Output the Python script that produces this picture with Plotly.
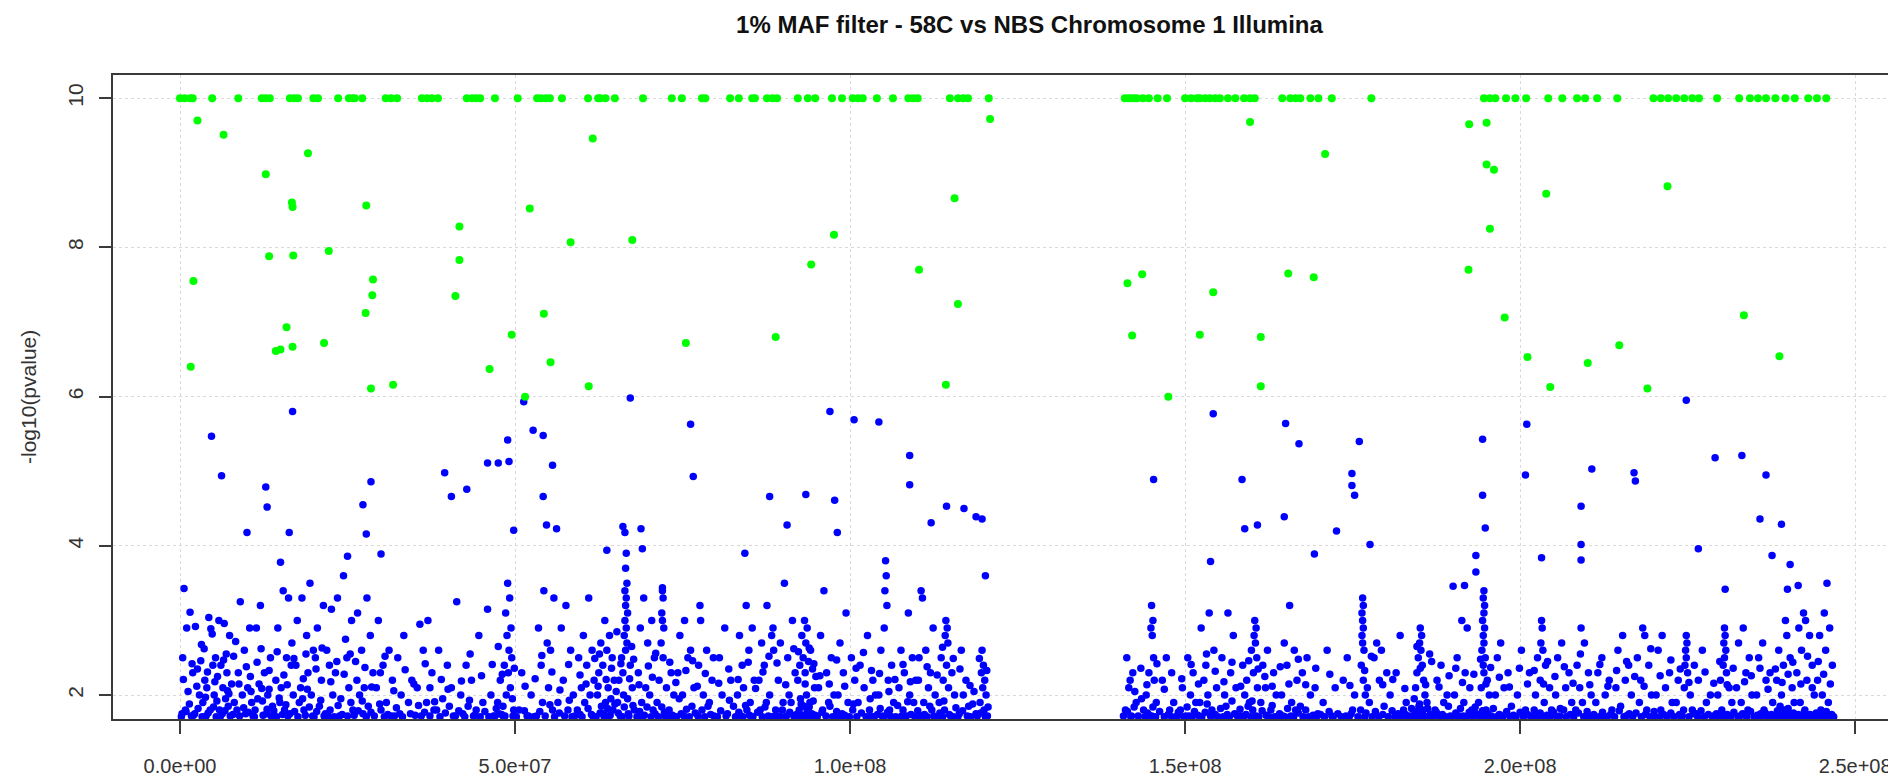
import plotly.graph_objects as go

TITLE = "1% MAF filter - 58C vs NBS Chromosome 1 Illumina"
Y_LABEL = "-log10(pvalue)"
X_TICKS = [0, 5e7, 1e8, 1.5e8, 2e8, 2.5e8]
X_TICK_TEXT = ["0.0e+00", "5.0e+07", "1.0e+08", "1.5e+08", "2.0e+08", "2.5e+08"]
Y_TICKS = [2, 4, 6, 8, 10]

# green points capped at -log10(p) = 10 (positions in Mb)
green_cap_mb = [0.0, 0.7, 1.5, 1.9, 4.8, 8.7, 12.2, 12.8, 13.4, 16.4, 17.0, 17.6, 19.9, 20.6,
                23.6, 25.2, 25.7, 26.1, 27.2, 30.7, 31.5, 32.4, 36.1, 36.9, 37.6, 38.5, 42.8,
                43.6, 44.2, 44.8, 47.0, 50.4, 53.3, 53.9, 54.6, 55.2, 57.0, 60.9, 62.4, 62.7,
                63.5, 64.9, 69.1, 73.4, 74.9, 77.9, 78.4, 82.1, 83.4, 85.4, 85.8, 87.6, 88.4,
                89.1, 92.2, 93.7, 94.8, 97.3, 98.8, 100.4, 101.2, 101.9, 104.0, 106.4, 108.7,
                109.4, 110.1, 114.9, 116.1, 116.9, 117.6, 120.7,
                141.0, 141.5, 141.9, 142.4, 142.8, 143.7, 144.6, 145.9, 147.3, 150.0, 150.9,
                151.8, 152.2, 153.0, 153.7, 154.5, 155.2, 156.4, 157.5, 158.8, 159.7, 160.4,
                164.5, 165.7, 166.5, 167.2, 168.7, 169.9, 171.9, 177.8, 194.6, 195.5, 196.3,
                197.9, 199.3, 200.9, 204.2, 206.3, 208.5, 209.7, 211.5, 214.5, 219.9, 221.0,
                222.1, 223.3, 224.5, 225.7, 226.7, 229.4, 232.7, 234.3, 235.5, 236.7, 238.1,
                239.6, 241.0, 243.0, 244.3, 245.7]

# green points between 6 and 10
green_mid = [(2.6, 9.70), (6.5, 9.51), (19.1, 9.26), (12.8, 8.98), (16.7, 8.60), (16.8, 8.54),
             (27.8, 8.56), (52.2, 8.52), (41.7, 8.28), (58.3, 8.07), (61.6, 9.46), (13.3, 7.88),
             (16.9, 7.89), (22.2, 7.95), (41.7, 7.83), (2.0, 7.55), (28.8, 7.57), (28.7, 7.36),
             (41.1, 7.35), (27.7, 7.12), (54.3, 7.11), (120.9, 9.72), (115.6, 8.66), (67.5, 8.10),
             (97.6, 8.17), (94.2, 7.77), (110.3, 7.70), (116.1, 7.24), (1.6, 6.40), (14.3, 6.61),
             (15.0, 6.63), (15.9, 6.93), (16.8, 6.67), (21.5, 6.72), (28.5, 6.11), (31.8, 6.16),
             (46.2, 6.37), (49.5, 6.83), (55.3, 6.46), (51.5, 6.00), (61.0, 6.14), (75.5, 6.72),
             (88.9, 6.80), (114.3, 6.16),
             (159.7, 9.68), (192.4, 9.65), (195.0, 9.67), (170.9, 9.25), (195.0, 9.11),
             (196.1, 9.04), (222.0, 8.82), (203.9, 8.72), (195.5, 8.25), (141.4, 7.52),
             (143.6, 7.64), (142.1, 6.82), (147.5, 6.00), (154.2, 7.40), (152.2, 6.83),
             (161.3, 6.80), (161.3, 6.14), (165.4, 7.65), (169.2, 7.60), (192.3, 7.70),
             (197.7, 7.06), (201.1, 6.53), (204.5, 6.13), (210.1, 6.45), (214.8, 6.69),
             (219.0, 6.11), (233.4, 7.09), (238.7, 6.54)]

# blue points above ~3.4
blue_high = [(16.8, 5.80), (4.7, 5.47), (6.2, 4.94), (10.0, 4.18), (12.8, 4.79), (13.0, 4.52),
             (15.0, 3.78), (16.3, 4.18), (25.0, 3.86), (27.3, 4.55), (28.5, 4.86), (27.8, 4.16),
             (30.0, 3.89), (39.5, 4.98), (40.5, 4.66), (42.8, 4.76), (45.9, 5.11), (47.5, 5.11),
             (48.9, 5.42), (49.1, 5.13), (49.8, 4.21), (51.3, 5.93), (52.7, 5.55), (54.2, 5.48),
             (54.2, 4.66), (54.7, 4.28), (55.6, 5.08), (56.2, 4.23), (63.7, 3.94), (66.1, 4.26),
             (66.4, 4.18), (67.2, 5.98), (68.8, 4.23), (69.0, 3.96), (72.0, 3.44), (76.2, 5.63),
             (76.6, 4.93), (88.0, 4.66), (90.6, 4.28), (93.4, 4.69), (97.0, 5.80), (97.7, 4.61),
             (98.1, 4.18), (100.6, 5.69), (104.3, 5.66), (108.9, 5.21), (108.9, 4.82),
             (112.1, 4.31), (114.4, 4.53), (117.0, 4.50), (118.8, 4.39), (119.7, 4.36),
             (120.2, 3.60),
             (145.3, 4.89), (154.2, 5.77), (153.8, 3.79), (158.5, 4.89), (158.9, 4.23),
             (160.8, 4.28), (164.8, 4.39), (165.0, 5.64), (167.0, 5.37), (169.3, 3.89),
             (172.6, 4.20), (176.0, 5.40), (174.9, 4.97), (174.9, 4.81), (175.3, 4.68),
             (177.6, 4.02), (190.0, 3.46), (191.7, 3.47), (193.4, 3.65), (194.4, 5.43),
             (194.4, 4.68), (194.8, 4.24), (193.4, 3.87), (201.0, 5.63), (200.8, 4.95),
             (203.2, 3.84), (209.1, 4.53), (209.1, 4.02), (209.1, 3.81), (210.7, 5.03),
             (217.0, 4.98), (217.2, 4.87), (224.8, 5.95), (226.6, 3.96), (229.1, 5.18),
             (233.1, 5.21), (230.6, 3.42), (236.7, 4.95), (235.8, 4.36), (237.6, 3.87),
             (239.0, 4.29), (240.3, 3.75), (239.9, 3.42), (241.5, 3.47)]

# blue points in the dense band, short arm
blue_low_p = [
    (0.6, 3.43), (1.5, 3.11), (1.0, 2.90), (0.4, 2.50), (1.2, 2.05), (0.3, 1.75), (1.7, 1.72), (0.8, 1.80), (1.9, 2.30),
    (2.3, 2.92), (4.3, 3.04), (4.6, 2.89), (4.8, 2.82), (3.1, 2.46), (2.6, 2.35), (3.7, 2.20), (4.0, 2.10), (2.9, 2.00),
    (3.4, 1.90), (4.5, 1.80), (2.2, 1.75), (3.9, 1.72), (4.9, 2.40), (3.6, 2.62),
    (5.8, 3.00), (6.6, 2.96), (7.4, 2.80), (5.3, 2.50), (6.1, 2.40), (7.0, 2.30), (5.6, 2.25), (7.7, 2.15), (6.4, 2.10),
    (5.1, 2.00), (6.8, 1.95), (7.2, 1.85), (5.9, 1.80), (6.3, 1.75), (7.5, 1.72), (5.4, 1.71), (6.9, 2.55),
    (9.0, 3.25), (8.3, 2.72), (10.4, 2.90), (9.6, 2.60), (8.7, 2.30), (10.1, 2.10), (9.3, 2.00), (10.7, 1.90), (8.5, 1.80),
    (9.8, 1.75), (10.9, 1.72),
    (12.0, 3.20), (11.4, 2.90), (13.5, 2.50), (12.6, 2.30), (11.8, 2.15), (13.1, 2.00), (12.3, 1.92), (13.8, 1.85),
    (11.2, 1.80), (12.9, 1.75), (13.6, 1.72), (12.1, 2.62),
    (15.4, 3.40), (16.2, 3.30), (14.6, 2.90), (15.9, 2.50), (16.6, 2.40), (14.3, 2.20), (15.1, 2.10), (16.9, 2.00),
    (14.9, 1.90), (15.6, 1.80), (16.4, 1.75), (14.1, 1.72), (16.7, 2.70),
    (19.4, 3.50), (18.2, 3.30), (17.5, 3.00), (19.9, 2.60), (18.8, 2.55), (17.3, 2.40), (19.1, 2.30), (18.0, 2.10),
    (19.6, 2.00), (17.8, 1.90), (18.5, 1.80), (19.8, 1.72), (18.9, 2.80),
    (21.4, 3.20), (22.6, 3.15), (20.5, 2.90), (21.9, 2.60), (20.2, 2.50), (22.3, 2.40), (21.1, 2.20), (22.8, 2.00),
    (20.8, 1.85), (21.7, 1.75), (22.1, 1.72),
    (24.4, 3.60), (23.5, 3.30), (25.6, 3.00), (24.9, 2.50), (23.2, 2.30), (25.2, 2.10), (24.0, 1.95), (25.8, 1.80),
    (23.8, 1.72), (24.7, 2.75),
    (27.9, 3.30), (26.5, 3.10), (28.4, 2.80), (27.1, 2.60), (26.2, 2.45), (28.8, 2.30), (27.5, 2.10), (26.8, 2.00),
    (28.1, 1.85), (27.3, 1.75),
    (29.6, 3.00), (31.2, 2.60), (30.3, 2.40), (31.7, 2.20), (29.3, 2.10), (30.8, 1.90), (30.0, 1.80), (31.5, 1.72),
    (33.4, 2.80), (32.5, 2.50), (34.6, 2.20), (33.0, 2.00), (34.1, 1.90), (32.8, 1.75),
    (35.8, 2.95), (37.0, 3.00), (36.3, 2.60), (37.6, 2.30), (35.4, 2.10), (36.8, 1.90), (37.9, 1.80), (36.0, 1.72),
    (38.6, 2.60), (39.9, 2.40), (40.5, 2.10), (39.2, 1.95), (38.3, 1.80), (40.8, 1.72),
    (41.3, 3.25), (42.7, 2.40), (43.5, 2.20), (41.9, 2.00), (43.0, 1.85), (42.2, 1.75), (43.8, 1.72),
    (45.9, 3.15), (44.6, 2.80), (46.4, 2.00), (45.2, 1.90), (44.2, 1.80), (46.8, 1.72),
    (48.9, 3.50), (49.2, 3.30), (48.6, 3.10), (49.4, 2.90), (48.8, 2.80), (49.1, 2.60), (49.5, 2.50), (48.4, 2.40),
    (49.0, 2.30), (47.8, 2.20), (49.3, 2.10), (48.7, 2.00), (49.6, 1.95), (47.4, 1.90), (48.2, 1.85), (49.8, 1.80),
    (47.6, 1.75), (48.5, 1.72),
    (51.0, 2.30), (52.4, 2.00), (50.6, 1.80), (51.8, 1.72),
    (54.3, 3.40), (55.8, 3.30), (53.5, 2.90), (54.8, 2.70), (55.3, 2.60), (53.9, 2.40), (55.0, 2.10), (54.1, 1.90),
    (55.6, 1.80), (53.2, 1.72),
    (57.6, 3.20), (56.9, 2.90), (58.3, 2.60), (57.2, 2.20), (58.7, 2.00), (56.4, 1.90), (57.9, 1.80), (58.9, 1.72),
    (61.0, 3.30), (60.2, 2.80), (61.5, 2.60), (59.5, 2.50), (60.7, 2.40), (61.8, 2.20), (59.9, 2.10), (61.2, 2.00),
    (60.4, 1.90), (59.3, 1.80), (61.6, 1.72),
    (63.4, 3.00), (64.1, 2.80), (62.8, 2.70), (63.7, 2.60), (64.5, 2.50), (63.1, 2.40), (62.5, 2.30), (64.8, 2.20),
    (63.9, 2.10), (62.3, 2.00), (64.3, 1.95), (63.5, 1.90), (62.9, 1.85), (64.6, 1.80), (63.2, 1.75), (64.0, 1.72),
    (62.6, 2.55),
    (66.6, 3.90), (66.5, 3.70), (66.7, 3.50), (66.4, 3.40), (66.6, 3.30), (66.5, 3.20), (66.8, 3.10), (66.4, 3.00),
    (66.6, 2.90), (66.3, 2.80), (66.7, 2.70), (66.5, 2.60), (65.9, 2.50), (67.2, 2.40), (66.1, 2.30), (65.5, 2.20),
    (67.5, 2.10), (66.2, 2.00), (65.3, 1.90), (67.8, 1.80), (66.9, 1.75), (65.7, 1.72), (67.4, 2.65), (65.2, 2.85),
    (69.2, 3.30), (70.4, 3.00), (68.7, 2.90), (69.8, 2.70), (70.8, 2.50), (68.4, 2.30), (69.5, 2.10), (70.1, 2.00),
    (68.9, 1.90), (70.6, 1.80), (69.0, 1.72),
    (72.0, 3.40), (72.1, 3.30), (71.9, 3.10), (72.0, 3.00), (72.2, 2.90), (71.8, 2.70), (72.1, 2.50), (73.3, 2.30),
    (71.5, 2.20), (72.6, 2.10), (73.7, 2.00), (71.2, 1.90), (73.0, 1.80), (72.4, 1.72),
    (75.3, 3.00), (74.6, 2.80), (76.2, 2.60), (75.8, 2.50), (74.3, 2.30), (76.7, 2.10), (75.0, 2.00), (76.4, 1.85),
    (74.8, 1.75),
    (77.6, 3.20), (77.7, 3.00), (78.6, 2.60), (77.4, 2.40), (79.4, 2.20), (78.1, 2.00), (79.0, 1.90), (77.9, 1.80),
    (79.7, 1.72),
    (81.3, 2.90), (80.5, 2.50), (82.2, 2.20), (80.9, 2.00), (82.6, 1.85), (81.7, 1.75),
    (84.3, 3.90), (84.5, 3.20), (85.4, 2.90), (83.5, 2.80), (84.9, 2.60), (83.9, 2.40), (85.7, 2.20), (84.1, 2.10),
    (83.2, 2.00), (85.1, 1.90), (84.6, 1.80), (83.7, 1.72),
    (87.6, 3.20), (88.5, 2.90), (88.3, 2.80), (86.8, 2.70), (88.6, 2.60), (87.2, 2.40), (86.4, 2.20), (88.0, 2.00),
    (87.5, 1.90), (86.6, 1.80), (88.8, 1.72),
    (90.2, 3.50), (91.4, 3.00), (89.6, 2.70), (90.7, 2.50), (91.8, 2.30), (89.3, 2.20), (90.9, 2.00), (91.2, 1.90),
    (89.9, 1.80), (90.5, 1.72),
    (93.2, 3.00), (93.6, 2.90), (92.8, 2.80), (93.4, 2.70), (94.1, 2.60), (93.0, 2.50), (93.8, 2.45), (92.5, 2.40),
    (94.4, 2.35), (93.3, 2.30), (92.2, 2.20), (94.7, 2.10), (93.5, 2.00), (92.6, 1.95), (94.0, 1.90), (93.1, 1.85),
    (92.4, 1.80), (94.3, 1.75), (93.7, 1.72), (94.9, 2.25),
    (96.1, 3.40), (95.6, 2.80), (97.2, 2.50), (96.5, 2.30), (95.3, 2.10), (97.6, 2.00), (96.8, 1.90), (95.9, 1.80),
    (97.9, 1.72),
    (99.4, 3.10), (98.5, 2.70), (100.2, 2.50), (99.0, 2.30), (100.7, 2.20), (98.2, 2.00), (99.7, 1.90), (100.4, 1.80),
    (98.8, 1.75),
    (102.6, 2.80), (101.5, 2.40), (103.4, 2.20), (102.1, 2.10), (103.8, 2.00), (101.2, 1.90), (102.9, 1.80), (103.1, 1.72),
    (105.3, 3.80), (105.4, 3.60), (105.2, 3.40), (105.5, 3.20), (105.1, 2.90), (104.6, 2.60), (106.2, 2.40),
    (105.7, 2.20), (104.3, 2.00), (106.5, 1.90), (105.9, 1.80), (104.8, 1.72),
    (108.7, 3.10), (107.6, 2.60), (109.3, 2.50), (108.1, 2.30), (109.8, 2.20), (107.3, 2.10), (108.9, 2.00),
    (109.5, 1.90), (107.9, 1.80), (108.4, 1.72),
    (110.6, 3.40), (110.8, 3.30), (112.4, 2.90), (111.3, 2.60), (110.3, 2.50), (112.0, 2.30), (111.7, 2.10),
    (112.7, 2.00), (111.0, 1.90), (112.2, 1.80), (110.9, 1.72),
    (114.3, 3.00), (114.5, 2.90), (114.2, 2.80), (114.6, 2.70), (113.6, 2.50), (114.4, 2.40), (115.2, 2.30),
    (113.9, 2.20), (114.7, 2.10), (115.6, 2.00), (113.3, 1.90), (114.1, 1.80), (115.0, 1.72),
    (116.6, 2.60), (117.3, 2.20), (116.9, 2.00), (117.7, 1.85), (116.3, 1.75),
    (119.7, 2.60), (119.9, 2.40), (119.6, 2.30), (120.1, 2.20), (119.8, 2.10), (120.3, 2.00), (119.4, 1.90),
    (120.0, 1.80), (118.8, 1.75), (120.5, 1.72), (118.5, 2.05),
]

# blue points in the dense band, long arm
blue_low_q = [
    (141.3, 2.50), (142.2, 2.30), (141.6, 2.10), (142.7, 1.90), (141.1, 1.80), (142.0, 1.72),
    (145.0, 3.20), (145.2, 3.00), (144.9, 2.90), (145.1, 2.80), (145.3, 2.50), (144.6, 2.30), (145.4, 2.20),
    (144.2, 2.00), (145.7, 1.90), (143.8, 1.80), (145.0, 1.72),
    (147.2, 2.50), (146.6, 2.20), (148.3, 1.90), (147.7, 1.80), (148.8, 1.72),
    (150.4, 2.50), (151.2, 2.30), (149.6, 2.10), (150.8, 2.00), (151.6, 1.90), (149.3, 1.80), (150.1, 1.72),
    (153.6, 3.10), (152.4, 2.90), (154.3, 2.60), (153.1, 2.40), (152.8, 2.20), (154.7, 2.10), (153.4, 2.00),
    (152.2, 1.90), (154.0, 1.80), (153.8, 1.72),
    (156.4, 3.10), (157.2, 2.80), (155.5, 2.50), (156.8, 2.30), (157.6, 2.10), (155.9, 2.00), (156.1, 1.85), (157.4, 1.75),
    (160.4, 3.00), (160.6, 2.90), (160.3, 2.80), (160.5, 2.70), (159.9, 2.60), (160.7, 2.50), (158.6, 2.40),
    (160.2, 2.30), (159.2, 2.20), (160.8, 2.10), (158.9, 2.00), (159.6, 1.90), (160.1, 1.80), (158.4, 1.72),
    (162.3, 2.60), (161.6, 2.40), (163.2, 2.30), (162.0, 2.10), (163.6, 2.00), (161.3, 1.90), (162.8, 1.80), (163.9, 1.72),
    (165.6, 3.20), (164.8, 2.70), (166.3, 2.60), (165.2, 2.40), (166.7, 2.20), (164.4, 2.00), (165.9, 1.90),
    (166.5, 1.80), (164.6, 1.72),
    (168.2, 2.50), (167.5, 2.30), (169.4, 2.10), (168.7, 2.00), (167.2, 1.85), (169.8, 1.75),
    (171.2, 2.60), (172.4, 2.10), (170.6, 1.90), (171.9, 1.72),
    (174.2, 2.50), (173.6, 2.20), (175.3, 2.00), (174.8, 1.75),
    (176.5, 3.30), (176.6, 3.20), (176.4, 3.10), (176.5, 3.00), (176.6, 2.90), (176.4, 2.80), (176.5, 2.70),
    (176.7, 2.60), (176.3, 2.40), (176.6, 2.20), (177.2, 2.10), (176.9, 2.00), (177.5, 1.90), (176.2, 1.80),
    (178.6, 2.70), (179.3, 2.60), (178.2, 2.50), (180.1, 2.30), (179.0, 2.20), (180.6, 2.00), (179.7, 1.85),
    (182.1, 2.80), (181.5, 2.30), (183.0, 1.90), (182.6, 1.80), (183.6, 1.72),
    (185.1, 2.90), (185.3, 2.80), (185.0, 2.70), (185.2, 2.60), (184.8, 2.50), (185.4, 2.40), (184.6, 2.30),
    (185.6, 2.20), (184.4, 2.10), (185.8, 2.00), (184.2, 1.95), (186.1, 1.90), (184.9, 1.85), (185.5, 1.80),
    (184.3, 1.75), (186.4, 1.72), (185.7, 1.72), (186.8, 2.45),
    (188.2, 2.40), (187.6, 2.20), (189.1, 2.00), (188.6, 1.90), (187.3, 1.80), (189.6, 1.72),
    (191.3, 3.00), (192.1, 2.90), (190.6, 2.50), (191.8, 2.30), (192.5, 2.10), (190.2, 2.00), (191.6, 1.90),
    (192.8, 1.80), (190.9, 1.72),
    (194.6, 3.40), (194.5, 3.30), (194.7, 3.20), (194.6, 3.10), (194.4, 3.00), (194.7, 2.90), (194.5, 2.80),
    (194.6, 2.70), (194.3, 2.60), (194.8, 2.50), (194.5, 2.40), (194.6, 2.30), (195.1, 2.20), (194.2, 2.10),
    (195.4, 2.00), (193.8, 1.90), (194.9, 1.80), (193.5, 1.75), (195.7, 1.72),
    (197.1, 2.70), (196.6, 2.50), (198.2, 2.30), (197.6, 2.10), (196.3, 2.00), (198.7, 1.85), (197.9, 1.75),
    (200.2, 2.60), (201.4, 2.30), (199.6, 2.00), (200.8, 1.80), (201.8, 1.72),
    (203.2, 3.00), (203.3, 2.90), (203.1, 2.70), (203.4, 2.60), (202.6, 2.50), (203.8, 2.40), (203.0, 2.20),
    (204.4, 2.10), (202.3, 2.00), (203.6, 1.90), (204.7, 1.80), (202.8, 1.72),
    (206.2, 2.70), (205.6, 2.50), (207.3, 2.30), (206.8, 2.10), (205.3, 2.00), (207.7, 1.90), (206.5, 1.80), (205.9, 1.72),
    (209.1, 2.90), (209.6, 2.70), (208.5, 2.40), (210.2, 2.30), (208.9, 2.10), (210.6, 2.00), (209.3, 1.90),
    (208.3, 1.80), (210.9, 1.72),
    (212.2, 2.50), (211.6, 2.30), (213.3, 2.20), (212.7, 2.00), (211.3, 1.90), (213.7, 1.80), (212.5, 1.72),
    (215.3, 2.80), (214.6, 2.60), (216.2, 2.40), (215.7, 2.20), (214.3, 2.10), (216.6, 2.00), (215.0, 1.85), (216.3, 1.75),
    (218.3, 2.90), (218.6, 2.80), (217.5, 2.50), (219.2, 2.40), (218.0, 2.20), (219.6, 2.00), (217.8, 1.90),
    (218.9, 1.80), (219.9, 1.72),
    (221.2, 2.80), (220.6, 2.60), (222.3, 2.30), (221.7, 2.10), (220.3, 2.00), (222.7, 1.90), (221.0, 1.80), (222.0, 1.72),
    (224.8, 2.80), (224.9, 2.70), (224.7, 2.60), (224.8, 2.50), (224.6, 2.40), (225.0, 2.30), (223.6, 2.20),
    (224.5, 2.10), (225.4, 2.00), (223.3, 1.90), (225.7, 1.80), (224.2, 1.72),
    (227.2, 2.60), (226.6, 2.20), (228.4, 2.00), (227.8, 1.90), (226.3, 1.75),
    (230.5, 2.90), (230.6, 2.80), (230.4, 2.70), (230.7, 2.60), (230.5, 2.50), (230.3, 2.40), (230.8, 2.30),
    (229.9, 2.20), (231.2, 2.10), (229.5, 2.00), (231.6, 1.90), (230.1, 1.80), (229.3, 1.75), (231.0, 1.72),
    (233.3, 2.90), (232.6, 2.70), (234.2, 2.50), (233.7, 2.30), (232.3, 2.10), (234.6, 2.00), (233.0, 1.90),
    (234.0, 1.80), (232.8, 1.72),
    (236.2, 2.70), (235.6, 2.50), (237.3, 2.30), (236.7, 2.20), (235.3, 2.00), (237.7, 1.90), (236.4, 1.80),
    (235.9, 1.75), (237.1, 1.72),
    (239.6, 3.00), (239.8, 2.80), (238.6, 2.60), (240.3, 2.50), (239.3, 2.40), (238.3, 2.20), (240.6, 2.10),
    (239.0, 2.00), (240.9, 1.90), (238.8, 1.85), (239.5, 1.80), (240.1, 1.75), (238.5, 1.72),
    (242.3, 3.10), (242.6, 3.00), (241.6, 2.90), (243.2, 2.80), (242.0, 2.60), (243.6, 2.40), (241.3, 2.30),
    (242.8, 2.20), (243.9, 2.00), (241.8, 1.90), (242.5, 1.80), (243.4, 1.72),
    (245.8, 3.50), (245.4, 3.10), (246.2, 2.90), (244.7, 2.80), (245.6, 2.60), (246.6, 2.40), (244.4, 2.20),
    (245.1, 2.00), (246.0, 1.90), (244.9, 1.80), (246.4, 1.72),
]

# extra blue points in the 2.0-2.7 band
blue_mid_p = [
    (0.5, 2.21), (1.8, 2.42), (2.5, 2.12), (3.2, 2.68), (4.1, 2.31), (5.2, 2.18), (6.5, 2.47), (7.1, 2.06),
    (8.0, 2.52), (8.8, 2.15), (9.9, 2.38), (10.5, 2.25), (11.5, 2.44), (12.2, 2.09), (13.3, 2.33), (14.5, 2.58),
    (15.5, 2.27), (16.0, 2.14), (17.0, 2.49), (18.4, 2.22), (19.0, 2.08), (20.3, 2.35), (21.2, 2.63), (22.5, 2.18),
    (23.4, 2.45), (24.5, 2.28), (25.4, 2.55), (26.4, 2.20), (27.6, 2.37), (28.6, 2.11), (29.9, 2.30), (30.6, 2.52),
    (31.9, 2.06), (33.6, 2.34), (34.9, 2.15), (36.6, 2.42), (37.3, 2.10), (39.0, 2.21), (40.0, 2.08), (42.0, 2.19),
    (43.3, 2.55), (45.0, 2.26), (46.6, 2.41), (47.5, 2.65), (48.1, 2.28), (49.9, 2.36), (51.5, 2.12), (53.0, 2.22),
    (54.0, 2.53), (55.5, 2.31), (56.7, 2.07), (58.0, 2.41), (59.7, 2.27), (60.6, 2.15), (61.9, 2.49), (62.4, 2.12),
    (63.6, 2.21), (64.4, 2.36), (65.1, 2.05), (65.8, 2.42), (67.1, 2.22), (67.7, 2.48), (68.5, 2.14), (69.9, 2.39),
    (70.5, 2.24), (71.0, 2.56), (73.1, 2.44), (74.0, 2.17), (75.5, 2.33), (76.5, 2.46), (77.2, 2.12), (78.4, 2.29),
    (79.6, 2.50), (80.4, 2.16), (81.9, 2.35), (83.3, 2.21), (84.8, 2.44), (85.9, 2.09), (87.0, 2.31), (87.9, 2.52),
    (89.1, 2.43), (90.4, 2.14), (91.6, 2.62), (92.3, 2.58), (93.3, 2.15), (93.9, 2.63), (94.6, 2.42), (95.5, 2.26),
    (96.9, 2.15), (98.0, 2.47), (99.2, 2.12), (100.9, 2.36), (102.0, 2.57), (103.2, 2.33), (104.4, 2.29),
    (105.8, 2.05), (106.7, 2.21), (107.9, 2.41), (109.0, 2.18), (110.2, 2.20), (111.5, 2.38), (113.0, 2.27),
    (113.8, 2.64), (115.4, 2.49), (116.4, 2.35), (117.9, 2.13), (119.3, 2.49), (120.4, 2.33),
]
blue_mid_q = [
    (141.8, 2.20), (142.5, 2.05), (143.4, 2.36), (144.3, 2.14), (145.8, 2.42), (146.9, 2.08), (148.0, 2.30),
    (149.5, 2.22), (150.9, 2.41), (152.0, 2.15), (153.2, 2.55), (154.5, 2.32), (155.8, 2.18), (157.0, 2.44),
    (158.3, 2.12), (159.5, 2.46), (160.9, 2.35), (161.9, 2.25), (163.0, 2.12), (164.2, 2.38), (165.5, 2.15),
    (166.9, 2.48), (168.0, 2.14), (169.5, 2.36), (171.6, 2.28), (174.6, 2.13), (176.8, 2.33), (177.8, 2.52),
    (179.5, 2.14), (181.0, 2.21), (182.8, 2.09), (184.6, 2.65), (185.1, 2.36), (185.9, 2.14), (186.5, 2.55),
    (187.9, 2.11), (189.4, 2.26), (190.4, 2.36), (191.4, 2.17), (193.1, 2.28), (194.1, 2.48), (194.9, 2.15),
    (195.6, 2.37), (196.9, 2.24), (198.4, 2.11), (199.9, 2.36), (201.1, 2.15), (202.1, 2.33), (203.5, 2.15),
    (204.1, 2.45), (205.2, 2.25), (206.6, 2.38), (207.9, 2.16), (209.0, 2.55), (210.4, 2.14), (211.9, 2.41),
    (213.1, 2.12), (214.4, 2.33), (215.9, 2.45), (217.1, 2.25), (218.5, 2.12), (219.5, 2.62), (220.9, 2.26),
    (222.5, 2.47), (223.9, 2.35), (225.2, 2.17), (226.0, 2.40), (227.6, 2.31), (228.9, 2.16), (229.8, 2.45),
    (230.9, 2.14), (231.8, 2.36), (233.5, 2.18), (234.5, 2.26), (235.8, 2.36), (237.0, 2.08), (238.1, 2.35),
    (239.1, 2.17), (240.0, 2.28), (240.7, 2.44), (241.9, 2.15), (242.9, 2.52), (243.6, 2.10), (244.5, 2.45),
    (245.3, 2.28), (246.3, 2.15),
]

# blue points packed along the bottom of the band
blue_base_p = [
    (0.2, 1.71), (0.9, 1.78), (1.4, 1.88), (2.0, 1.73), (2.7, 1.82), (3.3, 1.71), (3.8, 1.97), (4.2, 1.76),
    (5.0, 1.84), (5.5, 1.92), (6.0, 1.71), (6.7, 1.79), (7.3, 2.02), (7.9, 1.74), (8.1, 1.90), (8.9, 1.72),
    (9.5, 1.83), (10.2, 1.77), (10.6, 2.05), (11.1, 1.71), (11.6, 1.95), (12.4, 1.73), (13.0, 1.81), (13.3, 2.08),
    (14.0, 1.79), (14.4, 1.71), (14.8, 1.96), (15.3, 1.74), (15.8, 1.87), (16.1, 1.72), (17.1, 1.78), (17.6, 1.71),
    (18.3, 1.95), (18.7, 1.73), (19.3, 1.84), (20.0, 1.71), (20.4, 1.78), (21.0, 1.93), (21.5, 1.72), (22.4, 1.80),
    (23.0, 1.71), (23.6, 1.86), (24.2, 1.74), (25.0, 1.72), (25.5, 1.90), (26.0, 1.73), (26.6, 1.79), (27.2, 1.92),
    (27.8, 1.71), (28.5, 1.77), (29.0, 1.72), (29.8, 1.88), (30.5, 1.71), (31.0, 1.74), (32.0, 1.72), (32.3, 1.83),
    (33.2, 1.71), (34.4, 1.75), (35.1, 1.73), (35.6, 1.86), (36.5, 1.77), (37.3, 1.72), (38.0, 1.91), (38.8, 1.71),
    (39.6, 1.76), (40.2, 1.85), (41.1, 1.72), (41.6, 1.79), (42.5, 1.71), (43.2, 1.93), (44.0, 1.73), (44.8, 1.71),
    (45.5, 1.78), (46.1, 1.71), (47.0, 1.72), (47.2, 1.82), (48.0, 1.74), (48.3, 1.71), (49.7, 1.72), (50.2, 1.71),
    (51.4, 1.79), (52.0, 1.72), (52.8, 1.71), (53.7, 1.78), (54.5, 1.72), (55.2, 1.87), (55.9, 1.71), (56.6, 1.76),
    (57.4, 1.72), (58.1, 1.93), (58.5, 1.71), (59.7, 1.74), (60.0, 1.71), (60.9, 1.82), (61.4, 1.74), (62.1, 1.71),
    (62.7, 1.76), (63.3, 1.71), (63.8, 1.82), (64.2, 1.73), (64.9, 1.88), (65.4, 1.76), (66.0, 1.71), (66.3, 1.84),
    (66.8, 1.95), (67.0, 1.72), (67.6, 1.86), (68.2, 1.71), (68.6, 1.78), (69.3, 1.73), (69.7, 1.84), (70.3, 1.71),
    (70.9, 1.75), (71.4, 1.71), (71.9, 1.84), (72.3, 1.77), (72.9, 1.71), (73.5, 1.73), (74.1, 1.71), (74.5, 1.95),
    (75.2, 1.72), (75.6, 1.81), (76.0, 1.71), (76.9, 1.76), (77.3, 1.72), (78.3, 1.71), (78.8, 1.85), (79.2, 1.74),
    (80.2, 1.71), (80.7, 1.79), (81.5, 1.72), (82.0, 1.93), (82.9, 1.71), (83.4, 1.77), (84.0, 1.71), (84.4, 1.86),
    (85.0, 1.73), (85.5, 1.71), (86.2, 1.77), (86.9, 1.71), (87.3, 1.84), (87.8, 1.72), (88.2, 1.71), (88.9, 1.80),
    (89.5, 1.72), (90.0, 1.90), (90.4, 1.71), (91.0, 1.77), (91.6, 1.72), (92.0, 1.74), (92.3, 1.71), (92.7, 1.88),
    (92.9, 1.73), (93.4, 1.71), (93.6, 1.79), (93.9, 1.84), (94.2, 1.71), (94.5, 1.92), (94.8, 1.73), (95.1, 1.71),
    (95.8, 1.77), (96.4, 1.72), (97.0, 1.85), (97.4, 1.71), (98.0, 1.78), (98.6, 1.71), (99.2, 1.73), (99.9, 1.71),
    (100.5, 1.88), (101.0, 1.71), (101.7, 1.76), (102.4, 1.71), (103.0, 1.95), (103.6, 1.71), (104.1, 1.74),
    (104.5, 1.82), (105.0, 1.71), (105.6, 1.77), (106.0, 1.72), (106.8, 1.71), (107.1, 1.86), (107.7, 1.72),
    (108.2, 1.71), (108.6, 1.91), (109.1, 1.74), (109.7, 1.71), (110.1, 1.79), (110.5, 1.71), (111.1, 1.74),
    (111.5, 1.71), (111.9, 1.85), (112.5, 1.72), (112.9, 1.71), (113.4, 1.76), (113.8, 1.71), (114.0, 1.92),
    (114.8, 1.74), (115.4, 1.71), (115.8, 1.83), (116.1, 1.71), (116.8, 1.79), (117.5, 1.72), (118.0, 1.71),
    (118.3, 1.88), (119.0, 1.72), (119.5, 1.76), (120.2, 1.71), (120.6, 1.84),
]
blue_base_q = [
    (140.8, 1.72), (141.4, 1.78), (141.9, 1.71), (142.4, 1.84), (143.0, 1.72), (143.5, 1.95), (144.0, 1.71),
    (144.4, 1.76), (144.8, 1.72), (145.2, 1.84), (145.6, 1.71), (146.2, 1.78), (146.9, 1.71), (147.5, 1.74),
    (148.0, 1.71), (149.0, 1.77), (149.8, 1.71), (150.3, 1.84), (150.6, 1.72), (151.0, 1.71), (151.4, 1.78),
    (151.9, 1.73), (152.5, 1.71), (153.0, 1.77), (153.3, 1.88), (153.9, 1.71), (154.5, 1.74), (154.9, 1.71),
    (155.3, 1.82), (155.7, 1.71), (156.3, 1.74), (156.6, 1.71), (157.0, 1.92), (157.8, 1.72), (158.2, 1.81),
    (158.7, 1.71), (159.1, 1.74), (159.4, 1.85), (159.8, 1.71), (160.0, 1.92), (160.6, 1.72), (161.0, 1.71),
    (161.5, 1.79), (162.1, 1.73), (162.5, 1.71), (163.0, 1.86), (163.4, 1.71), (164.1, 1.75), (164.9, 1.71),
    (165.3, 1.82), (165.8, 1.72), (166.2, 1.71), (166.9, 1.76), (167.6, 1.71), (168.0, 1.80), (168.5, 1.71),
    (169.1, 1.73), (169.6, 1.71), (170.2, 1.74), (170.8, 1.71), (171.5, 1.78), (172.1, 1.71), (172.8, 1.75),
    (173.3, 1.71), (174.0, 1.72), (174.5, 1.71), (175.0, 1.80), (175.8, 1.71), (176.8, 1.71), (177.0, 1.76),
    (177.9, 1.71), (178.4, 1.78), (178.9, 1.71), (179.5, 1.74), (180.3, 1.71), (180.9, 1.79), (181.3, 1.71),
    (181.8, 1.75), (182.3, 1.71), (182.9, 1.74), (183.3, 1.71), (183.8, 1.82), (184.1, 1.71), (184.5, 1.78),
    (184.7, 1.72), (185.0, 1.88), (185.2, 1.71), (185.4, 1.75), (185.9, 1.71), (186.2, 1.82), (186.6, 1.74),
    (187.0, 1.71), (187.5, 1.77), (188.0, 1.71), (188.4, 1.74), (188.9, 1.71), (189.3, 1.85), (189.8, 1.71),
    (190.4, 1.76), (190.8, 1.71), (191.1, 1.82), (191.5, 1.72), (192.0, 1.71), (192.4, 1.77), (193.0, 1.71),
    (193.3, 1.84), (193.9, 1.72), (194.1, 1.71), (194.4, 1.79), (194.8, 1.71), (195.2, 1.75), (195.5, 1.71),
    (196.0, 1.82), (196.5, 1.71), (196.9, 1.74), (197.4, 1.71), (198.0, 1.78), (198.5, 1.71), (199.0, 1.73),
    (199.4, 1.71), (200.0, 1.77), (200.5, 1.71), (201.1, 1.74), (201.6, 1.71), (202.1, 1.80), (202.5, 1.71),
    (203.0, 1.76), (203.5, 1.71), (204.0, 1.73), (204.5, 1.71), (205.0, 1.77), (205.5, 1.71), (206.0, 1.82),
    (206.9, 1.71), (207.5, 1.74), (208.0, 1.71), (208.7, 1.76), (209.5, 1.71), (210.0, 1.78), (210.4, 1.71),
    (211.0, 1.74), (211.8, 1.71), (212.3, 1.77), (213.0, 1.71), (213.5, 1.74), (214.1, 1.71), (214.8, 1.79),
    (215.5, 1.71), (216.0, 1.73), (216.8, 1.71), (217.3, 1.76), (218.1, 1.71), (218.7, 1.74), (219.4, 1.71),
    (220.0, 1.78), (220.8, 1.71), (221.4, 1.74), (221.9, 1.71), (222.5, 1.76), (223.0, 1.71), (223.8, 1.74),
    (224.0, 1.71), (224.4, 1.80), (225.2, 1.71), (225.9, 1.75), (226.5, 1.71), (227.0, 1.79), (227.5, 1.71),
    (228.1, 1.74), (228.7, 1.71), (229.1, 1.73), (229.7, 1.71), (230.0, 1.76), (230.3, 1.71), (230.9, 1.74),
    (231.4, 1.71), (231.9, 1.77), (232.5, 1.71), (233.2, 1.75), (233.8, 1.71), (234.4, 1.78), (234.9, 1.71),
    (235.4, 1.73), (236.0, 1.71), (236.6, 1.76), (237.0, 1.71), (237.5, 1.74), (238.0, 1.71), (238.4, 1.79),
    (238.9, 1.71), (239.2, 1.74), (239.7, 1.71), (240.0, 1.82), (240.5, 1.71), (240.8, 1.76), (241.1, 1.71),
    (241.5, 1.74), (242.0, 1.71), (242.4, 1.77), (242.9, 1.71), (243.3, 1.74), (243.8, 1.71), (244.2, 1.76),
    (244.6, 1.71), (245.0, 1.73), (245.3, 1.71), (245.7, 1.78), (246.1, 1.71), (246.5, 1.74), (246.8, 1.71),
]

MB = 1e6
blue_pts = blue_base_p + blue_base_q + blue_mid_p + blue_mid_q + blue_low_p + blue_low_q + blue_high
blue_x = [p[0] * MB for p in blue_pts]
blue_y = [p[1] for p in blue_pts]
green_x = [m * MB for m in green_cap_mb] + [p[0] * MB for p in green_mid]
green_y = [10.0 for _ in green_cap_mb] + [p[1] for p in green_mid]

FONT = "Liberation Sans, Arial, sans-serif"
AXCOL = "#3a3a3a"

# the page body has an 8px default margin, so the figure starts at (8, 8)
W, H = 1888, 769

fig = go.Figure()
fig.add_trace(go.Scatter(x=blue_x, y=blue_y, mode="markers",
                         marker=dict(color="#0000ff", size=7.5, line=dict(width=0)),
                         showlegend=False, hoverinfo="x+y"))
fig.add_trace(go.Scatter(x=green_x, y=green_y, mode="markers",
                         marker=dict(color="#00ff00", size=8, line=dict(width=0)),
                         showlegend=False, hoverinfo="x+y"))

fig.update_layout(
    width=W, height=H,
    margin=dict(l=105, r=0, t=67, b=53),
    paper_bgcolor="white", plot_bgcolor="white",
    title=dict(text="<b>" + TITLE + "</b>", x=0.514, xref="paper", y=1 - 17 / H,
               yref="container", yanchor="middle", xanchor="center",
               font=dict(family=FONT, size=24, color="#111")),
    font=dict(family=FONT, size=20, color="#333"),
)
fig.update_xaxes(range=[-1.0e7, 2.561e8], tickvals=X_TICKS, ticktext=X_TICK_TEXT,
                 showline=True, linecolor=AXCOL, linewidth=2, mirror=True,
                 ticks="outside", ticklen=13, tickwidth=2, tickcolor=AXCOL,
                 ticklabelstandoff=15,
                 showgrid=True, gridcolor="#d9d9d9", griddash="dot", gridwidth=1,
                 zeroline=False, tickfont=dict(size=20, color="#333"))
fig.update_yaxes(range=[1.68, 10.31], tickvals=Y_TICKS,
                 showline=True, linecolor=AXCOL, linewidth=2, mirror=False,
                 ticks="outside", ticklen=12, tickwidth=2, tickcolor=AXCOL,
                 tickangle=-90, ticklabelstandoff=8,
                 showgrid=True, gridcolor="#d9d9d9", griddash="dot", gridwidth=1,
                 zeroline=False, tickfont=dict(size=21, color="#333"))
fig.add_annotation(text=Y_LABEL, xref="paper", yref="paper", x=(28 - 113) / 1783, y=0.5,
                   textangle=-90, showarrow=False, xanchor="center", yanchor="middle",
                   font=dict(family=FONT, size=21, color="#333"))

fig.write_html("out.html")
